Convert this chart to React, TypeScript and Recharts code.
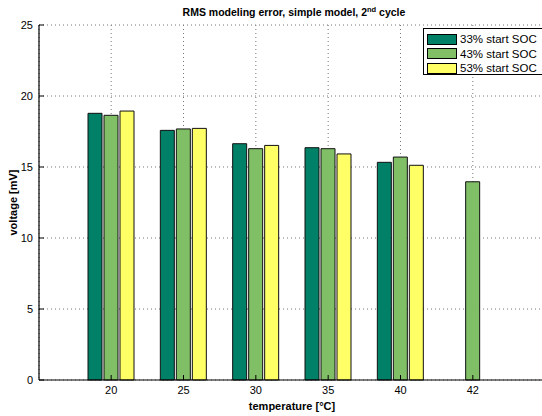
import React from 'react';
import { BarChart, Bar, XAxis, YAxis, CartesianGrid } from 'recharts';

// Temperatures (categories) and RMS error per starting state of charge, in mV
const temperatures = ['20', '25', '30', '35', '40', '42'];
const soc33 = [18.78, 17.58, 16.64, 16.36, 15.33, null];
const soc43 = [18.64, 17.68, 16.29, 16.29, 15.7, 13.96];
const soc53 = [18.94, 17.72, 16.52, 15.92, 15.12, null];
const voltageTicks = [0, 5, 10, 15, 20, 25];
const seriesNames = ['33% start SOC', '43% start SOC', '53% start SOC'];
const seriesKeys = ['s33', 's43', 's53'];
const seriesColors = ['#008066', '#80BF66', '#FFFF66'];

const rows = temperatures.map((t, i) => ({
  temperature: t,
  s33: soc33[i],
  s43: soc43[i],
  s53: soc53[i],
}));

const FONT = 'Arial, "Liberation Sans", Helvetica, sans-serif';
const TICK_MARGIN = 6;
const TICK_LEN = 5;

// chart frame
const CHART_W = 560;
const CHART_H = 416;
const MARGIN = { top: 25, right: 15, left: 0, bottom: 6 };
const X_AXIS_H = 30;
const Y_AXIS_W = 39;
const PLOT_TOP = MARGIN.top;
const PLOT_H = CHART_H - MARGIN.top - MARGIN.bottom - X_AXIS_H;

const XTick = (props: any) => {
  const { x, y, payload } = props;
  const axisY = y - TICK_MARGIN;
  return (
    <g>
      <line x1={x} y1={axisY} x2={x} y2={axisY - TICK_LEN} stroke="#000" strokeWidth={1} />
      <text x={x} y={y} dy="0.75em" textAnchor="middle" fontSize={11} fontFamily={FONT} fill="#000">
        {payload.value}
      </text>
    </g>
  );
};

const YTick = (props: any) => {
  const { x, y, payload } = props;
  const axisX = x + TICK_MARGIN;
  return (
    <g>
      <line x1={axisX} y1={y} x2={axisX + TICK_LEN} y2={y} stroke="#000" strokeWidth={1} />
      <text x={x} y={y} dy="0.36em" textAnchor="end" fontSize={11} fontFamily={FONT} fill="#000">
        {payload.value}
      </text>
    </g>
  );
};

const XLabel = (props: any) => {
  const { viewBox } = props;
  return (
    <text
      x={viewBox.x + viewBox.width / 2}
      y={viewBox.y + viewBox.height}
      textAnchor="middle"
      fontSize={11}
      fontWeight="bold"
      fontFamily={FONT}
      fill="#000"
    >
      temperature [°C]
    </text>
  );
};

const YLabel = () => {
  const cx = 13;
  const cy = PLOT_TOP + PLOT_H / 2;
  return (
    <text
      x={cx}
      y={cy}
      transform={`rotate(-90 ${cx} ${cy})`}
      textAnchor="middle"
      dominantBaseline="central"
      fontSize={11}
      fontWeight="bold"
      fontFamily={FONT}
      fill="#000"
    >
      voltage [mV]
    </text>
  );
};

export default function App() {
  return (
    <div
      style={{
        position: 'absolute',
        left: 0,
        top: 0,
        width: 542,
        height: 416,
        overflow: 'hidden',
        background: '#fff',
        fontFamily: FONT,
      }}
    >
      <div
        style={{
          position: 'absolute',
          left: 0,
          top: 5,
          width: 588,
          textAlign: 'center',
          fontSize: 10.5,
          fontWeight: 'bold',
          color: '#000',
          lineHeight: '14px',
          whiteSpace: 'nowrap',
        }}
      >
        RMS modeling error, simple model, 2<sup style={{ fontSize: 7.5, lineHeight: 0 }}>nd</sup> cycle
      </div>

      <BarChart
        width={CHART_W}
        height={CHART_H}
        data={rows}
        margin={MARGIN}
        barSize={14}
        barGap={2}
      >
        <CartesianGrid stroke="#777" strokeDasharray="1 3" />
        <XAxis
          dataKey="temperature"
          height={X_AXIS_H}
          padding={{ left: 36, right: 36 }}
          tickLine={false}
          tickSize={0}
          tickMargin={TICK_MARGIN}
          tick={<XTick />}
          axisLine={{ stroke: '#000', strokeWidth: 1.2 }}
          interval={0}
          label={<XLabel />}
        />
        <XAxis
          xAxisId="top"
          dataKey="temperature"
          orientation="top"
          mirror
          height={0}
          padding={{ left: 36, right: 36 }}
          tick={false}
          tickSize={TICK_LEN}
          tickLine={{ stroke: '#000' }}
          axisLine={{ stroke: '#000', strokeWidth: 1.2 }}
          interval={0}
        />
        <YAxis
          width={Y_AXIS_W}
          domain={[0, 25]}
          ticks={voltageTicks}
          interval={0}
          tickLine={false}
          tickSize={0}
          tickMargin={TICK_MARGIN}
          tick={<YTick />}
          axisLine={{ stroke: '#000', strokeWidth: 1.2 }}
          label={<YLabel />}
        />
        {seriesKeys.map((k, i) => (
          <Bar
            key={k}
            dataKey={k}
            name={seriesNames[i]}
            fill={seriesColors[i]}
            stroke="#111"
            strokeWidth={1}
            isAnimationActive={false}
          />
        ))}
      </BarChart>

      <div
        style={{
          position: 'absolute',
          left: 423,
          top: 28,
          width: 130,
          height: 47,
          border: '1px solid #000',
          background: '#fff',
          boxSizing: 'border-box',
          paddingTop: 3,
        }}
      >
        {seriesNames.map((n, i) => (
          <div key={n} style={{ display: 'flex', alignItems: 'center', height: 14.5, marginLeft: 3 }}>
            <div
              style={{
                width: 30,
                height: 11,
                background: seriesColors[i],
                border: '1px solid #000',
                boxSizing: 'border-box',
                marginRight: 3,
              }}
            />
            <span style={{ fontSize: 11.5, color: '#000', whiteSpace: 'nowrap', lineHeight: '14px' }}>{n}</span>
          </div>
        ))}
      </div>
    </div>
  );
}
